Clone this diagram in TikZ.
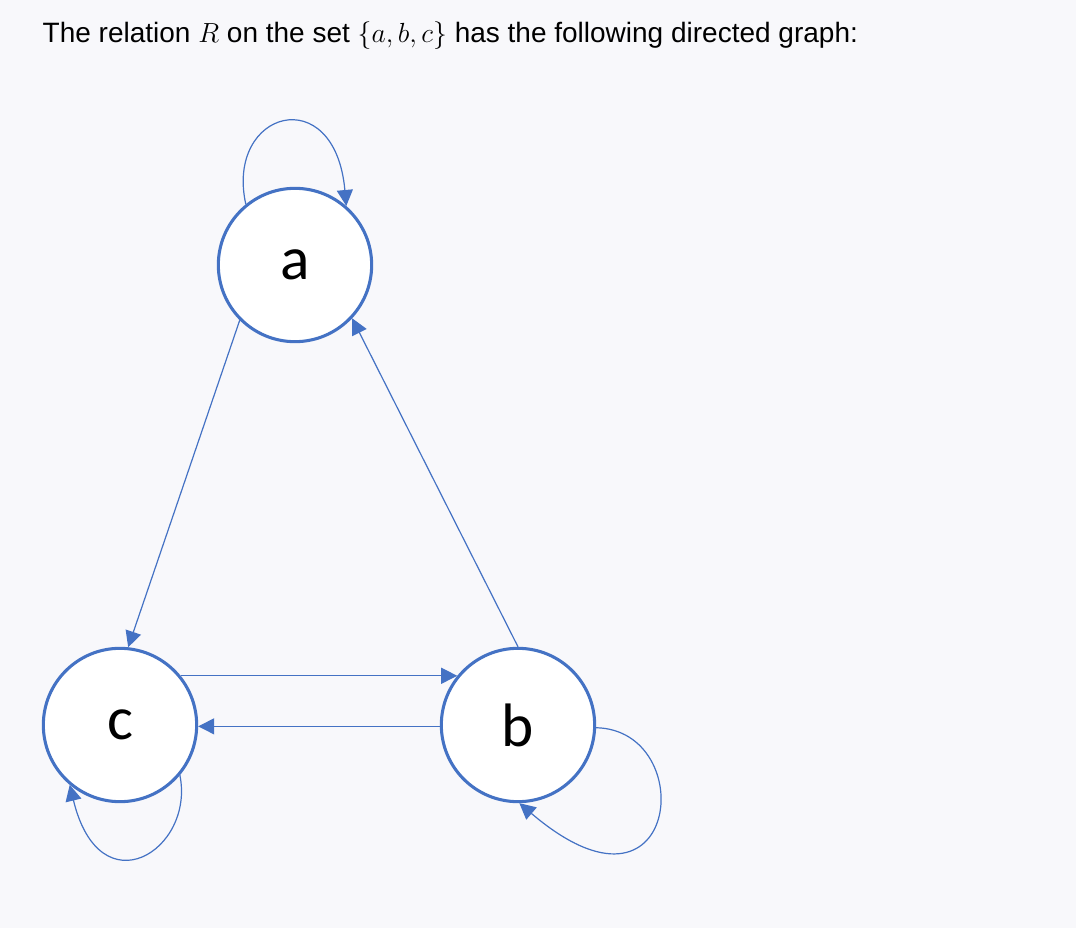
\documentclass[tikz,border=0pt]{standalone}
\usepackage{fontspec}
\setmainfont{Liberation Sans}
\newfontfamily\nodefont{Carlito}
\usetikzlibrary{arrows.meta}
\definecolor{bg}{HTML}{F8F8FB}
\definecolor{edge}{HTML}{4472C4}
\begin{document}
\begin{tikzpicture}[x=0.75pt,y=-0.75pt,
  vert/.style={circle,draw=edge,line width=2.3pt,fill=white,minimum size=115pt,inner sep=0pt,font=\nodefont\fontsize{46}{50}\selectfont},
  conn/.style={draw=edge,line width=0.9pt,-{Triangle[length=12pt,width=12pt]}}]
\fill[bg] (0,0) rectangle (1076,928);
\node[anchor=west,font=\fontsize{21}{25}\selectfont] (title) at (38,36) {The relation $\mathsurround=0pt\fontsize{28}{30}\selectfont R$ on the set $\fontsize{28}{30}\selectfont\{a,b,c\}$ has the following directed graph:};
\node[vert] (a) at (295,265) {a};
\node[vert] (c) at (120,725) {c};
\node[vert] (b) at (518,725) {b};
\draw[conn] (a.129) .. controls (225,110) and (335,80) .. (a.49);
\draw[conn] (a.225) -- (c.84);
\draw[conn] (b.90) -- (a.317);
\draw[conn] (c.39) -- (b.141);
\draw[conn] (b.181) -- (c.-1);
\draw[conn] (c.-40) .. controls (195,850) and (100,910) .. (c.230);
\draw[conn] (b.-2) .. controls (700,730) and (680,940) .. (b.-89);
\end{tikzpicture}
\end{document}
